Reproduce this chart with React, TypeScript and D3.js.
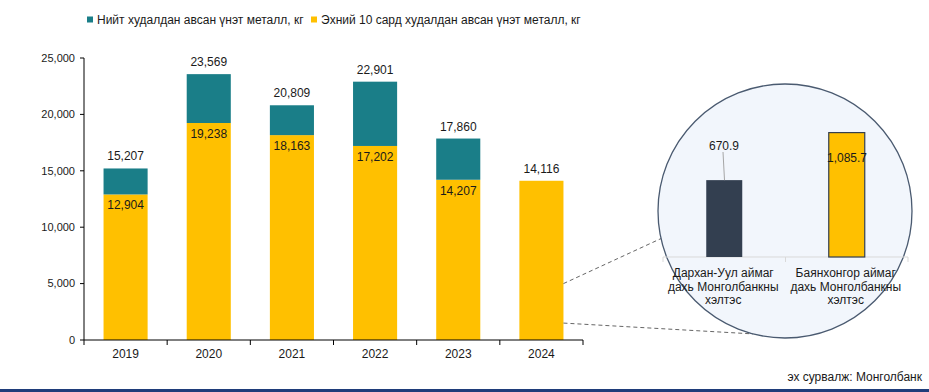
import React from "react";
import { scaleBand, scaleLinear, format } from "d3";

const years = ["2019", "2020", "2021", "2022", "2023", "2024"];
const totalSold = [15207, 23569, 20809, 22901, 17860, 14116]; // Нийт
const firstTenMonths = [12904, 19238, 18163, 17202, 14207, 14116]; // Эхний 10 сар
const yTicks = [0, 5000, 10000, 15000, 20000, 25000];

const branchNames = [
  ["Дархан-Уул аймаг", "дахь Монголбанкны", "хэлтэс"],
  ["Баянхонгор аймаг", "дахь Монголбанкны", "хэлтэс"],
];
const branchValues = [670.9, 1085.7];

const legendItems = [
  "Нийт худалдан авсан үнэт металл, кг",
  "Эхний 10 сард худалдан авсан үнэт металл, кг",
];

const TEAL = "#1a7e88";
const YELLOW = "#ffc000";
const DARK = "#333f50";
const FONT = "'Liberation Sans', Arial, sans-serif";

const W = 929;
const H = 392;

const App = () => {
  const fmt = format(",");
  const x = scaleBand<string>().domain(years).range([84, 583]);
  const y = scaleLinear().domain([0, 25000]).range([340, 58]);
  const barW = x.bandwidth() * 0.53;

  // zoom circle
  const cx = 785;
  const cy = 211;
  const r = 127;
  const ix = scaleBand<number>().domain([0, 1]).range([663, 908]);
  const iy = scaleLinear().domain([0, 1200]).range([257, 119.5]);
  const innerW = 36;

  // connectors from 2024 bar to circle
  const lastX = (x("2024") as number) + x.bandwidth() / 2 + barW / 2;
  const p1 = { x: lastX, y: y(5000) };
  const p2 = { x: lastX, y: y(1500) };
  const a1 = Math.PI + Math.atan2(28, 126);
  const a2 = Math.PI / 2 + Math.atan2(32, 123);
  const e1 = { x: cx + r * Math.cos(a1), y: cy - r * Math.sin(a1) };
  const e2 = { x: cx + r * Math.cos(a2), y: cy + r * Math.sin(a2) };

  return (
    <svg
      width={W}
      height={H}
      style={{ position: "absolute", left: 0, top: 0, background: "#fff" }}
      fontFamily={FONT}
    >
      {/* legend */}
      <g fontSize={12} fill="#1a1a1a">
        <rect x={87} y={16.5} width={6} height={6} fill={TEAL} />
        <text x={97} y={24}>{legendItems[0]}</text>
        <rect x={311} y={16.5} width={6} height={6} fill={YELLOW} />
        <text x={321} y={24}>{legendItems[1]}</text>
      </g>

      {/* y axis */}
      <line x1={84} x2={84} y1={y(25000)} y2={340} stroke="#000" />
      {yTicks.map((t) => (
        <g key={t}>
          <line x1={80} x2={84} y1={y(t)} y2={y(t)} stroke="#000" />
          <text x={75} y={y(t)} dy="0.35em" textAnchor="end" fontSize={11} fill="#1a1a1a">
            {fmt(t)}
          </text>
        </g>
      ))}

      {/* bars */}
      {years.map((yr, i) => {
        const bx = (x(yr) as number) + x.bandwidth() / 2 - barW / 2;
        const cxBar = bx + barW / 2;
        return (
          <g key={yr}>
            <rect x={bx} y={y(firstTenMonths[i])} width={barW} height={340 - y(firstTenMonths[i])} fill={YELLOW} />
            {totalSold[i] > firstTenMonths[i] && (
              <rect x={bx} y={y(totalSold[i])} width={barW} height={y(firstTenMonths[i]) - y(totalSold[i])} fill={TEAL} />
            )}
            <text x={cxBar} y={y(totalSold[i]) - 8} textAnchor="middle" fontSize={12} fill="#1a1a1a">
              {fmt(totalSold[i])}
            </text>
            {totalSold[i] > firstTenMonths[i] && (
              <text x={cxBar} y={y(firstTenMonths[i]) + 15} textAnchor="middle" fontSize={12} fill="#1a1a1a">
                {fmt(firstTenMonths[i])}
              </text>
            )}
          </g>
        );
      })}

      {/* x axis */}
      <line x1={84} x2={583} y1={340} y2={340} stroke="#000" />
      {[...years.map((yr) => x(yr) as number), 583].map((t, i) => (
        <line key={i} x1={t} x2={t} y1={340} y2={345} stroke="#000" />
      ))}
      {years.map((yr) => (
        <text key={yr} x={(x(yr) as number) + x.bandwidth() / 2} y={358} textAnchor="middle" fontSize={12} fill="#1a1a1a">
          {yr}
        </text>
      ))}

      {/* connectors */}
      <g stroke="#666" strokeDasharray="4,3" strokeWidth={1}>
        <line x1={p1.x} y1={p1.y} x2={e1.x} y2={e1.y} />
        <line x1={p2.x} y1={p2.y} x2={e2.x} y2={e2.y} />
      </g>

      {/* zoom circle */}
      <circle cx={cx} cy={cy} r={r} fill="#f2f6fc" stroke="#4a5a70" strokeWidth={1.3} />
      <line x1={663} x2={908} y1={257} y2={257} stroke="#d9d9d9" />
      {[663, 663 + ix.step(), 908].map((t, i) => (
        <line key={i} x1={t} x2={t} y1={257} y2={262} stroke="#d9d9d9" />
      ))}
      {branchValues.map((v, i) => {
        const mid = (ix(i) as number) + ix.bandwidth() / 2;
        return (
          <g key={i}>
            <rect
              x={mid - innerW / 2}
              y={iy(v)}
              width={innerW}
              height={257 - iy(v)}
              fill={i === 0 ? DARK : YELLOW}
              stroke={i === 0 ? "none" : DARK}
              strokeWidth={1.2}
            />
            {branchNames[i].map((ln, j) => (
              <text key={j} x={mid - 1} y={277 + j * 13.5} textAnchor="middle" fontSize={12} fill="#1a1a1a">
                {ln}
              </text>
            ))}
          </g>
        );
      })}
      {/* 670.9 label with leader line */}
      <line x1={723} y1={152} x2={724.5} y2={iy(branchValues[0])} stroke="#a6a6a6" />
      <text x={724} y={150} textAnchor="middle" fontSize={12} fill="#1a1a1a">
        {format(",.1f")(branchValues[0])}
      </text>
      <text x={847} y={162} textAnchor="middle" fontSize={12} fill="#1a1a1a">
        {format(",.1f")(branchValues[1])}
      </text>

      {/* source */}
      <text x={922} y={381} textAnchor="end" fontSize={12} fill="#1a1a1a">
        эх сурвалж: Монголбанк
      </text>
      <rect x={0} y={389} width={W} height={3} fill="#1f3d7a" />
    </svg>
  );
};

export default App;
